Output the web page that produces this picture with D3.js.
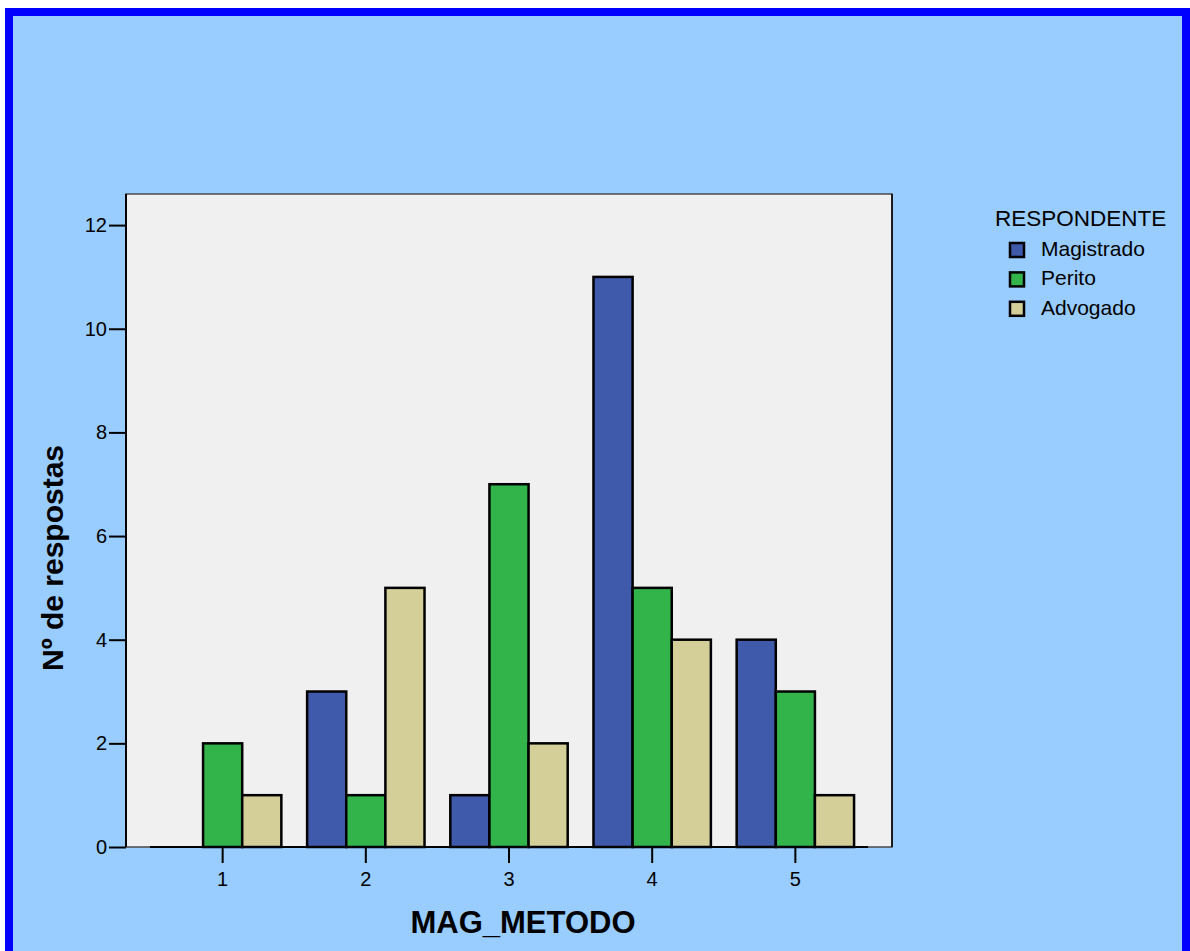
<!DOCTYPE html>
<html>
<head>
<meta charset="utf-8">
<script src="https://cdn.jsdelivr.net/npm/d3@7"></script>
<style>
  html, body { margin: 0; padding: 0; background: #ffffff; }
  svg { display: block; font-family: "Liberation Sans", Arial, sans-serif; }
</style>
</head>
<body>
<svg id="chart" width="1190" height="951"></svg>
<script>
// Categories on the x axis (MAG_METODO scores)
const categories = ["1", "2", "3", "4", "5"];
// Respondent groups
const seriesNames = ["Magistrado", "Perito", "Advogado"];
// Number of answers per group and category
const magistrado = [0, 3, 1, 11, 4];
const perito     = [2, 1, 7, 5, 3];
const advogado   = [1, 5, 2, 4, 1];
// Y-axis tick values
const yTicks = [0, 2, 4, 6, 8, 10, 12];

const seriesValues = [magistrado, perito, advogado];
const colors = ["#3f5aab", "#32b44b", "#d4cf98"];

const svg = d3.select("#chart");

// Background panel with the blue frame
svg.append("rect")
  .attr("x", 9).attr("y", 12)
  .attr("width", 1177).attr("height", 1000)
  .attr("fill", "#99ccff")
  .attr("stroke", "#0000ff")
  .attr("stroke-width", 8);

const plot = { left: 126, right: 892, top: 194, bottom: 847 };

const x = d3.scaleBand()
  .domain(categories)
  .range([plot.left, plot.right])
  .paddingInner(0.18)
  .paddingOuter(0.265);

const xInner = d3.scaleBand()
  .domain(seriesNames)
  .range([0, x.bandwidth()]);

const y = d3.scaleLinear()
  .domain([0, 12.6])
  .range([plot.bottom, plot.top]);

// Plot area
svg.append("rect")
  .attr("x", plot.left).attr("y", plot.top)
  .attr("width", plot.right - plot.left).attr("height", plot.bottom - plot.top)
  .attr("fill", "#f0f0f0")
  .attr("stroke", "#4a4a4a")
  .attr("stroke-width", 1.5);
svg.append("line")
  .attr("x1", plot.right).attr("x2", plot.right)
  .attr("y1", plot.top).attr("y2", plot.bottom)
  .attr("stroke", "#000").attr("stroke-width", 1.5);

// Bars
const rows = [];
categories.forEach((c, i) => {
  seriesNames.forEach((s, j) => {
    rows.push({ cat: c, series: s, value: seriesValues[j][i], color: colors[j] });
  });
});

svg.append("g")
  .selectAll("rect")
  .data(rows.filter(d => d.value > 0))
  .join("rect")
  .attr("x", d => x(d.cat) + xInner(d.series))
  .attr("y", d => y(d.value))
  .attr("width", xInner.bandwidth())
  .attr("height", d => y(0) - y(d.value))
  .attr("fill", d => d.color)
  .attr("stroke", "#000")
  .attr("stroke-width", 2.5);

// X axis baseline
svg.append("line")
  .attr("x1", x(categories[0]) - 14).attr("x2", x(categories[4]) + x.bandwidth() + 14)
  .attr("y1", y(0)).attr("y2", y(0))
  .attr("stroke", "#000").attr("stroke-width", 2);

// Y axis
const yAxis = d3.axisLeft(y)
  .tickValues(yTicks)
  .tickSize(17)
  .tickPadding(2)
  .tickSizeOuter(0);
const gy = svg.append("g")
  .attr("transform", `translate(${plot.left},0)`)
  .call(yAxis);
gy.select(".domain").attr("stroke", "#000").attr("stroke-width", 2)
  .attr("d", `M0,${plot.top}V${plot.bottom}`);
gy.selectAll(".tick line").attr("stroke", "#000").attr("stroke-width", 2);
gy.selectAll(".tick text")
  .attr("font-size", 20)
  .attr("fill", "#000")
  .attr("font-family", "Liberation Sans, Arial, sans-serif");

// X axis
const xAxis = d3.axisBottom(x)
  .tickSize(16)
  .tickPadding(9)
  .tickSizeOuter(0);
const gx = svg.append("g")
  .attr("transform", `translate(0,${plot.bottom})`)
  .call(xAxis);
gx.select(".domain").remove();
gx.selectAll(".tick line").attr("stroke", "#000").attr("stroke-width", 2);
gx.selectAll(".tick text")
  .attr("font-size", 20)
  .attr("fill", "#000")
  .attr("font-family", "Liberation Sans, Arial, sans-serif");

// Axis titles
svg.append("text")
  .attr("x", 523).attr("y", 933)
  .attr("text-anchor", "middle")
  .attr("font-size", 31)
  .attr("font-weight", "bold")
  .text("MAG_METODO");

svg.append("text")
  .attr("transform", "translate(63,558) rotate(-90)")
  .attr("text-anchor", "middle")
  .attr("font-size", 30)
  .attr("font-weight", "bold")
  .text("Nº de respostas");

// Legend
const legend = svg.append("g");
legend.append("text")
  .attr("x", 995).attr("y", 226)
  .attr("font-size", 22.5)
  .text("RESPONDENTE");

const item = legend.selectAll("g.item")
  .data(seriesNames)
  .join("g")
  .attr("class", "item")
  .attr("transform", (d, i) => `translate(1010,${243 + i * 29.4})`);
item.append("rect")
  .attr("width", 14).attr("height", 14)
  .attr("fill", (d, i) => colors[i])
  .attr("stroke", "#000")
  .attr("stroke-width", 2.5);
item.append("text")
  .attr("x", 31).attr("y", 13)
  .attr("font-size", 21)
  .text(d => d);
</script>
</body>
</html>
